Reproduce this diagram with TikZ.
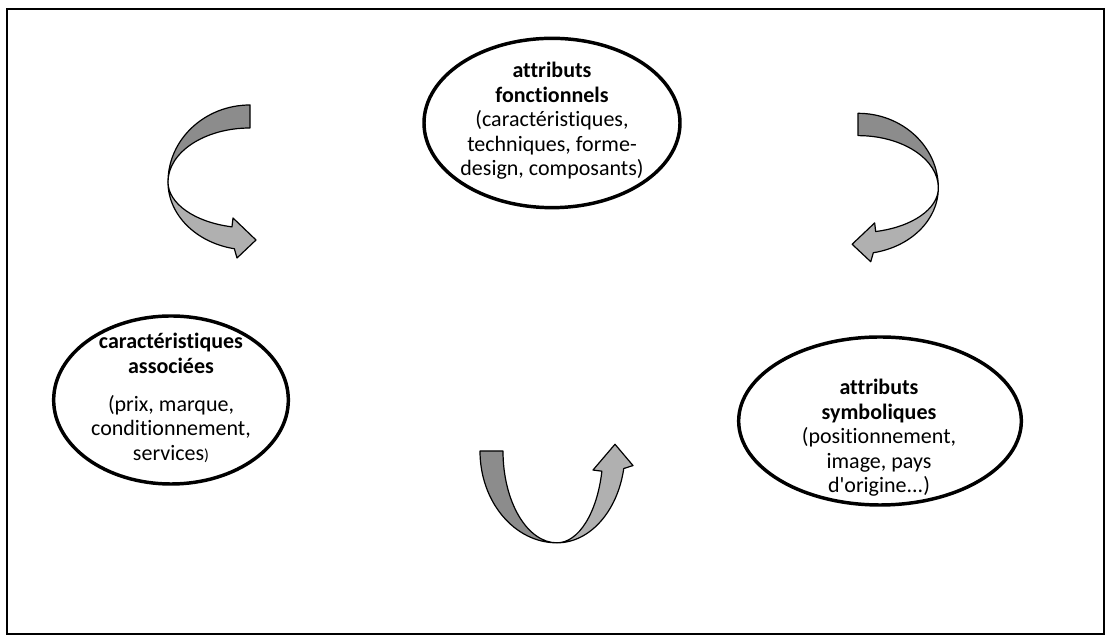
\documentclass[tikz,border=0pt]{standalone}
\usepackage{fontspec}
\setmainfont{Carlito}[Ligatures={TeXOff,CommonOff}]
\usetikzlibrary{shapes.geometric}
\definecolor{ribbondark}{RGB}{140,140,140}
\definecolor{ribbonlight}{RGB}{176,176,176}
\tikzset{
  bubble/.style={ellipse, draw, line width=2.6pt, inner sep=0pt},
  caption/.style={align=center, font=\fontsize{16.5}{18.4}\selectfont},
  ribbon/.style={draw=black, line width=0.9pt, line join=round},
  % curved ribbon arrow: dark back band on top, light front band ending in a head
  ribbon arrow/.pic={
    \path[ribbon, fill=ribbonlight] (-82,0)
      arc[start angle=180, end angle=259, x radius=82, y radius=68]
      -- (-13,-76) -- (6,-58) -- (-17,-36) -- (257.3:82 and 46)
      arc[start angle=257.3, end angle=180, x radius=82, y radius=46] -- cycle;
    \path[ribbon, fill=ribbondark] (0,77)
      arc[start angle=90, end angle=180, x radius=82, y radius=77]
      arc[start angle=180, end angle=90, x radius=82, y radius=54] -- cycle;
  }
}
\begin{document}
\begin{tikzpicture}[x=0.75pt, y=0.75pt]
\useasboundingbox (0,0) rectangle (1107,642);
\draw[line width=1.5pt] (7,633) rectangle (1104,8);

% the three attribute families
\node[bubble, minimum width=192pt, minimum height=127pt] (fonct) at (552,519) {};
\node[caption] (fonctText) at (552,521)
  {\textbf{attributs}\\ \textbf{fonctionnels}\\ (caractéristiques,\\ techniques, forme-\\ design, composants)};

\node[bubble, minimum width=176pt, minimum height=126pt] (assoc) at (171,242) {};
\node[caption] (assocText) at (171,244)
  {\textbf{caractéristiques}\\ \textbf{associées}\\[10pt] (prix, marque,\\ conditionnement,\\ services{\fontsize{12}{14}\selectfont)}};

\node[bubble, minimum width=212pt, minimum height=126pt] (symb) at (880,221) {};
\node[caption] (symbText) at (879,204)
  {\textbf{attributs}\\ \textbf{symboliques}\\ (positionnement,\\ image, pays\\ d'origine...)};

% cycling arrows between them
\pic (arrowLeft) at (250,460) {ribbon arrow};
\pic[xscale=-0.98, yscale=0.97] (arrowRight) at (858,454) {ribbon arrow};
\pic[rotate=90, xscale=1.12, yscale=1.0] (arrowBottom) at (557,191) {ribbon arrow};
\end{tikzpicture}
\end{document}
